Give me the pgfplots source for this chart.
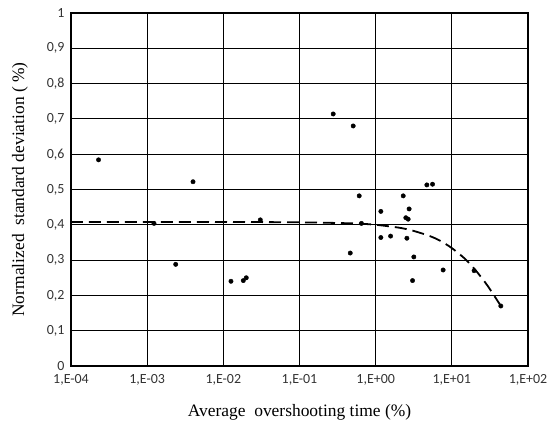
\documentclass[border=0pt]{standalone}
\usepackage{pgfplots}
\pgfplotsset{compat=1.18}
\usepackage{fontspec}
\setmainfont{Liberation Serif}
\newfontfamily\tickfont{Carlito}

\pgfplotstableread{
x y
2.3e-4 0.584
1.23e-3 0.404
2.37e-3 0.288
4.0e-3 0.522
0.0126 0.240
0.0183 0.242
0.020 0.250
0.0306 0.414
0.277 0.714
0.464 0.320
0.507 0.680
0.608 0.482
0.65 0.404
1.17 0.438
1.17 0.364
1.57 0.368
2.30 0.482
2.49 0.420
2.67 0.416
2.75 0.445
2.57 0.362
3.17 0.309
3.05 0.242
4.70 0.513
5.58 0.515
7.69 0.272
19.6 0.270
44 0.170
}\pts

\pgfplotstableread{
x y
1e-4 0.408
1e-3 0.408
1e-2 0.408
0.1 0.407
0.5 0.404
1 0.400
2 0.392
3 0.384
5 0.369
7 0.355
10 0.334
15 0.303
20 0.274
25 0.248
30 0.225
35 0.203
40 0.184
44 0.170
}\fit

\begin{document}
\begin{tikzpicture}
\begin{axis}[
  scale only axis, width=457bp, height=353bp,
  xmode=log, log basis x=10,
  xmin=1e-4, xmax=1e2, ymin=0, ymax=1,
  xtick={1e-4,1e-3,1e-2,1e-1,1,10,100},
  xticklabels={{1,E-04},{1,E-03},{1,E-02},{1,E-01},{1,E+00},{1,E+01},{1,E+02}},
  ytick={0,0.1,0.2,0.3,0.4,0.5,0.6,0.7,0.8,0.9,1},
  yticklabels={0,{0,1},{0,2},{0,3},{0,4},{0,5},{0,6},{0,7},{0,8},{0,9},1},
  grid=major,
  major grid style={black, line width=1bp},
  axis line style={black, line width=2bp},
  major tick style={draw=none},
  minor tick style={draw=none},
  minor x tick num=0,
  ticklabel style={font=\tickfont\fontsize{14}{16}\selectfont, text=black!80},
  xticklabel style={yshift=-5bp},
  yticklabel style={xshift=-3bp},
  xlabel={Average\ \ overshooting time (\%)},
  ylabel={Normalized\ \ standard deviation ( \%)},
  label style={font=\fontsize{17.5}{20}\selectfont},
  xlabel style={at={(axis description cs:0.5,-0.130)}, anchor=center},
  ylabel style={at={(axis description cs:-0.112,0.5)}, anchor=center},
  clip=false,
]
\addplot[black, line width=1.8bp, dash pattern=on 12bp off 6bp, smooth] table[x=x,y=y] {\fit};
\addplot[only marks, mark=*, mark size=2.2bp, black] table[x=x,y=y] {\pts};
\coordinate (sw) at (rel axis cs:0,0);
\coordinate (ne) at (rel axis cs:1,1);
\end{axis}
\pgfresetboundingbox
\path[use as bounding box] ([shift={(-71bp,-62bp)}]sw) rectangle ([shift={(19bp,13bp)}]ne);
\end{tikzpicture}
\end{document}
